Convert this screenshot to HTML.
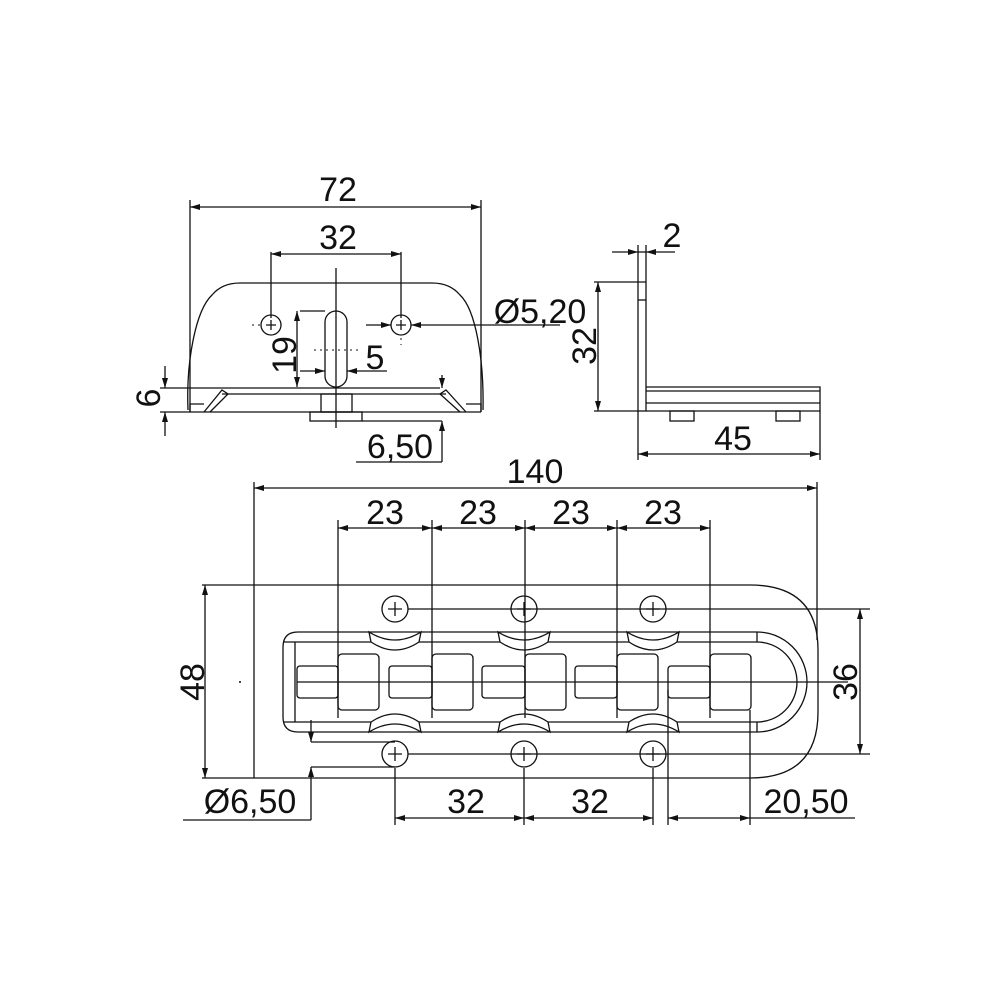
<!DOCTYPE html>
<html><head><meta charset="utf-8"><style>
html,body{margin:0;padding:0;background:#fff}
svg{display:block}
text{font-family:"Liberation Sans",sans-serif;font-size:34px;fill:#111}
</style></head><body>
<svg width="1000" height="1000" viewBox="0 0 1000 1000" xmlns="http://www.w3.org/2000/svg">
<defs>
<marker id="a" viewBox="0 0 10 6" refX="10" refY="3" markerWidth="10" markerHeight="6" orient="auto-start-reverse" markerUnits="userSpaceOnUse"><path d="M0,0L10,3L0,6z" fill="#111"/></marker>
</defs>
<g stroke="#111" stroke-width="1.3" fill="none">
<!-- TOP VIEW -->
<line x1="190" y1="200" x2="190" y2="412"/>
<line x1="481" y1="200" x2="481" y2="412"/>
<line x1="190" y1="207" x2="481" y2="207" marker-start="url(#a)" marker-end="url(#a)"/>
<line x1="271" y1="252" x2="271" y2="318"/>
<line x1="401" y1="252" x2="401" y2="318"/>
<line x1="271" y1="254" x2="401" y2="254" marker-start="url(#a)" marker-end="url(#a)"/>
<path d="M188,410 C186,360 196,310 212,295 Q222,283 240,283 L432,283 Q450,283 460,295 C476,310 484,360 483,410"/>
<line x1="160" y1="388" x2="440" y2="388"/>
<line x1="222" y1="394" x2="446" y2="394"/>
<line x1="160" y1="412" x2="481" y2="412"/>
<path d="M190,412 L190,404 L204,404 M204,412 L222,390 L228,394 L210,412"/>
<path d="M481,412 L481,404 L466,404 M466,412 L446,390 L440,394 L460,412"/>
<rect x="321" y="394" width="31" height="18"/>
<rect x="310" y="412" width="52" height="9"/>
<line x1="362" y1="421" x2="442" y2="421"/>
<circle cx="271" cy="325" r="10"/>
<circle cx="401" cy="325" r="10"/>
<path d="M266,325h10M271,320v10M396,325h10M401,320v10"/>
<rect x="325" y="311" width="22" height="76" rx="11"/>
<line x1="336" y1="268" x2="336" y2="428"/>
<line x1="300" y1="311" x2="325" y2="311"/>
<line x1="297" y1="311" x2="297" y2="387" marker-start="url(#a)" marker-end="url(#a)"/>
<line x1="300" y1="371" x2="325" y2="371" marker-end="url(#a)"/>
<line x1="387" y1="371" x2="347" y2="371" marker-end="url(#a)"/>
<line x1="366" y1="325" x2="391" y2="325" marker-end="url(#a)"/>
<line x1="560" y1="325" x2="411" y2="325" marker-end="url(#a)"/>
<line x1="165" y1="366" x2="165" y2="388" marker-end="url(#a)"/>
<line x1="165" y1="436" x2="165" y2="412" marker-end="url(#a)"/>
<line x1="442" y1="375" x2="442" y2="388" marker-end="url(#a)"/>
<line x1="442" y1="462" x2="442" y2="421" marker-end="url(#a)"/>
<line x1="356" y1="462" x2="442" y2="462"/>
<!-- SIDE VIEW -->
<rect x="638" y="252" width="8" height="159"/>
<line x1="638" y1="300" x2="646" y2="300"/>
<path d="M646,387 H820 V411 H646 M646,391 H820 M646,403 H820"/>
<rect x="670" y="411" width="24" height="10"/>
<rect x="776" y="411" width="24" height="10"/>
<line x1="638" y1="245" x2="638" y2="252"/><line x1="646" y1="245" x2="646" y2="252"/>
<line x1="612" y1="252" x2="638" y2="252" marker-end="url(#a)"/>
<line x1="675" y1="252" x2="646" y2="252" marker-end="url(#a)"/>
<line x1="594" y1="282" x2="646" y2="282"/>
<line x1="594" y1="411" x2="638" y2="411"/>
<line x1="598" y1="282" x2="598" y2="411" marker-start="url(#a)" marker-end="url(#a)"/>
<line x1="638" y1="411" x2="638" y2="460"/>
<line x1="820" y1="411" x2="820" y2="460"/>
<line x1="638" y1="454" x2="820" y2="454" marker-start="url(#a)" marker-end="url(#a)"/>
<!-- BOTTOM VIEW -->
<line x1="254" y1="482" x2="254" y2="778"/>
<line x1="817" y1="482" x2="817" y2="640"/>
<line x1="254" y1="488" x2="817" y2="488" marker-start="url(#a)" marker-end="url(#a)"/>
<path d="M202,585 H750 Q818,585 818,650 V712 Q818,778 750,778 H202"/>
<line x1="205" y1="585" x2="205" y2="778" marker-start="url(#a)" marker-end="url(#a)"/>
<path d="M298,632 H757 A50,50 0 0 1 757,732 H298 Q283,732 283,717 V647 Q283,632 298,632 Z"/>
<path d="M295,642 H757 A40,40 0 0 1 757,722 H295 Z"/>
<line x1="757" y1="632" x2="757" y2="642"/><line x1="757" y1="722" x2="757" y2="732"/>
<path d="M283,642h12M283,722h12"/>
<g fill="#fff">
<path d="M369,632 Q395,648 421,632 L419,642 Q395,658 371,642 Z"/>
<path d="M498,632 Q524,648 550,632 L548,642 Q524,658 500,642 Z"/>
<path d="M627,632 Q653,648 679,632 L677,642 Q653,658 629,642 Z"/>
<path d="M369,732 Q395,716 421,732 L419,722 Q395,706 371,722 Z"/>
<path d="M498,732 Q524,716 550,732 L548,722 Q524,706 500,722 Z"/>
<path d="M627,732 Q653,716 679,732 L677,722 Q653,706 629,722 Z"/>
</g>
<rect x="297" y="666" width="41" height="32" rx="3"/>
<rect x="389" y="666" width="43" height="32" rx="3"/>
<rect x="482" y="666" width="43" height="32" rx="3"/>
<rect x="575" y="666" width="42" height="32" rx="3"/>
<rect x="668" y="666" width="42" height="32" rx="3"/>
<rect x="338" y="654" width="41" height="56" rx="4"/>
<rect x="432" y="654" width="41" height="56" rx="4"/>
<rect x="525" y="654" width="41" height="56" rx="4"/>
<rect x="617" y="654" width="41" height="56" rx="4"/>
<rect x="710" y="654" width="41" height="56" rx="4"/>
<line x1="297" y1="682" x2="848" y2="682"/>
<line x1="338" y1="520" x2="338" y2="718"/>
<line x1="432" y1="520" x2="432" y2="718"/>
<line x1="525" y1="520" x2="525" y2="718"/>
<line x1="617" y1="520" x2="617" y2="718"/>
<line x1="710" y1="520" x2="710" y2="718"/>
<line x1="338" y1="528" x2="432" y2="528" marker-start="url(#a)" marker-end="url(#a)"/>
<line x1="432" y1="528" x2="525" y2="528" marker-start="url(#a)" marker-end="url(#a)"/>
<line x1="525" y1="528" x2="617" y2="528" marker-start="url(#a)" marker-end="url(#a)"/>
<line x1="617" y1="528" x2="710" y2="528" marker-start="url(#a)" marker-end="url(#a)"/>
<g>
<circle cx="395" cy="609" r="13"/><circle cx="524" cy="609" r="13"/><circle cx="653" cy="609" r="13"/>
<circle cx="395" cy="754" r="13"/><circle cx="524" cy="754" r="13"/><circle cx="653" cy="754" r="13"/>
<path d="M388,609h14M395,602v14M517,609h14M524,602v14M646,609h14M653,602v14M388,754h14M395,747v14M517,754h14M524,747v14M646,754h14M653,747v14"/>
</g>
<line x1="408" y1="609" x2="870" y2="609"/>
<line x1="408" y1="754" x2="870" y2="754"/>
<line x1="860" y1="609" x2="860" y2="754" marker-start="url(#a)" marker-end="url(#a)"/>
<line x1="311" y1="742" x2="395" y2="742"/>
<line x1="311" y1="767" x2="395" y2="767"/>
<line x1="311" y1="720" x2="311" y2="742" marker-end="url(#a)"/>
<line x1="311" y1="820" x2="311" y2="767" marker-end="url(#a)"/>
<line x1="183" y1="820" x2="311" y2="820"/>
<line x1="395" y1="768" x2="395" y2="825"/>
<line x1="524" y1="768" x2="524" y2="825"/>
<line x1="653" y1="768" x2="653" y2="825"/>
<line x1="668" y1="690" x2="668" y2="825"/>
<line x1="750" y1="710" x2="750" y2="825"/>
<line x1="395" y1="818" x2="524" y2="818" marker-start="url(#a)" marker-end="url(#a)"/>
<line x1="524" y1="818" x2="653" y2="818" marker-start="url(#a)" marker-end="url(#a)"/>
<line x1="668" y1="818" x2="750" y2="818" marker-start="url(#a)" marker-end="url(#a)"/>
<line x1="750" y1="818" x2="855" y2="818"/>
</g>
<g stroke="#111" stroke-width="1" stroke-dasharray="2,4">
<line x1="252" y1="325" x2="262" y2="325"/><line x1="401" y1="338" x2="401" y2="345"/>
<line x1="314" y1="350" x2="358" y2="350"/>
</g>
<circle cx="240" cy="682" r="1" fill="#111"/>
<text x="338" y="201" text-anchor="middle">72</text>
<text x="338" y="249" text-anchor="middle">32</text>
<text x="540" y="323" text-anchor="middle">Ø5,20</text>
<text x="375" y="369" text-anchor="middle">5</text>
<text transform="translate(296,355) rotate(-90)" text-anchor="middle">19</text>
<text transform="translate(160,398) rotate(-90)" text-anchor="middle">6</text>
<text x="400" y="458" text-anchor="middle">6,50</text>
<text x="672" y="247" text-anchor="middle">2</text>
<text transform="translate(596,346) rotate(-90)" text-anchor="middle">32</text>
<text x="733" y="450" text-anchor="middle">45</text>
<text x="535" y="483" text-anchor="middle">140</text>
<text x="385" y="524" text-anchor="middle">23</text>
<text x="478" y="524" text-anchor="middle">23</text>
<text x="571" y="524" text-anchor="middle">23</text>
<text x="663" y="524" text-anchor="middle">23</text>
<text transform="translate(204,682) rotate(-90)" text-anchor="middle">48</text>
<text transform="translate(857,682) rotate(-90)" text-anchor="middle">36</text>
<text x="250" y="813" text-anchor="middle">Ø6,50</text>
<text x="466" y="813" text-anchor="middle">32</text>
<text x="590" y="813" text-anchor="middle">32</text>
<text x="806" y="813" text-anchor="middle">20,50</text>
</svg>
</body></html>
